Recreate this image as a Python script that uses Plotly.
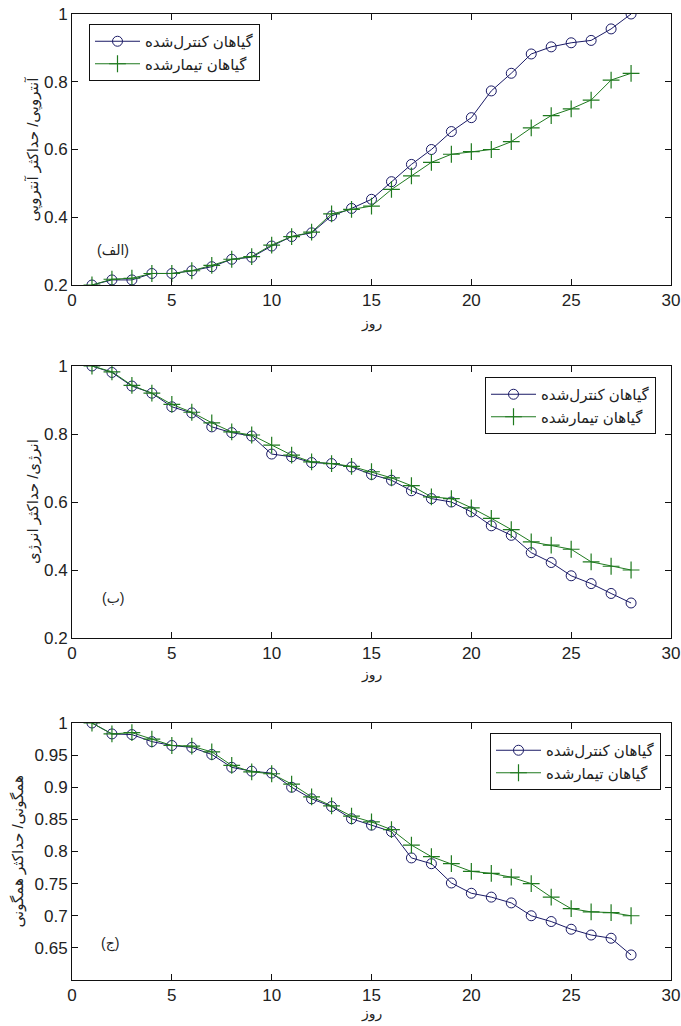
import plotly.graph_objects as go

W, H = 681, 1026
days = list(range(1, 29))

# (الف) entropy / max entropy
entropy_control = [0.200, 0.215, 0.215, 0.234, 0.234, 0.242, 0.254, 0.276, 0.282, 0.315,
                   0.343, 0.354, 0.404, 0.426, 0.453, 0.505, 0.556, 0.600, 0.653, 0.694,
                   0.773, 0.825, 0.882, 0.903, 0.915, 0.922, 0.956, 1.000]
entropy_treated = [0.200, 0.217, 0.220, 0.234, 0.234, 0.242, 0.258, 0.276, 0.284, 0.318,
                   0.343, 0.356, 0.410, 0.423, 0.433, 0.482, 0.522, 0.562, 0.586, 0.594,
                   0.600, 0.623, 0.664, 0.700, 0.720, 0.746, 0.805, 0.825]

# (ب) energy / max energy
energy_control = [1.000, 0.981, 0.941, 0.920, 0.880, 0.862, 0.821, 0.804, 0.794, 0.741,
                  0.733, 0.716, 0.713, 0.703, 0.681, 0.664, 0.633, 0.610, 0.600, 0.571,
                  0.530, 0.502, 0.451, 0.422, 0.383, 0.360, 0.331, 0.303]
energy_treated = [1.000, 0.983, 0.943, 0.920, 0.887, 0.864, 0.833, 0.806, 0.797, 0.767,
                  0.738, 0.718, 0.713, 0.705, 0.689, 0.671, 0.648, 0.615, 0.610, 0.583,
                  0.552, 0.519, 0.483, 0.473, 0.461, 0.424, 0.411, 0.400]

# (ج) homogeneity / max homogeneity
homog_control = [1.000, 0.983, 0.982, 0.971, 0.965, 0.962, 0.951, 0.931, 0.925, 0.922,
                 0.900, 0.882, 0.870, 0.851, 0.841, 0.831, 0.790, 0.781, 0.751, 0.735,
                 0.729, 0.720, 0.700, 0.691, 0.679, 0.670, 0.665, 0.639]
homog_treated = [1.000, 0.983, 0.985, 0.975, 0.965, 0.964, 0.955, 0.934, 0.924, 0.921,
                 0.905, 0.885, 0.871, 0.855, 0.846, 0.834, 0.810, 0.792, 0.781, 0.769,
                 0.766, 0.760, 0.750, 0.729, 0.711, 0.706, 0.705, 0.700]

name_control = "گیاهان کنترل‌شده"
name_treated = "گیاهان تیمارشده"
x_title = "روز"
y_titles = ["آنتروپی/ حداکثر آنتروپی", "انرژی/ حداکثر انرژی", "همگونی/ حداکثر همگونی"]
panel_labels = ["(الف)", "(ب)", "(ج)"]

x_ticks = [0, 5, 10, 15, 20, 25, 30]
y_ticks_a = [0.2, 0.4, 0.6, 0.8, 1.0]
y_ticklabels_a = ["0.2", "0.4", "0.6", "0.8", "1"]
y_ticks_c = [0.65, 0.7, 0.75, 0.8, 0.85, 0.9, 0.95, 1.0]
y_ticklabels_c = ["0.65", "0.7", "0.75", "0.8", "0.85", "0.9", "0.95", "1"]

NAVY = "#1a1a66"
GREEN = "#1f7a1f"
FONT = "Liberation Sans, Arial, DejaVu Sans, sans-serif"
TXT = "#222222"

# page-pixel layout of the three panels (left, right, top, bottom)
panels = [(72, 671, 14, 285), (72, 671, 366, 638), (72, 671, 723, 980)]
legend_pos = [(89, 24), (485, 377), (490, 733)]
label_pos = [(113, 250), (113, 598), (110, 943)]
ytitle_x = [33, 33, 17]
xtitle_gap = [38, 36, 33]


def px(xp):
    return min(max(xp / W, 0), 1)


def py(yp):
    return min(max(1 - yp / H, 0), 1)


fig = go.Figure()
series = [(entropy_control, entropy_treated), (energy_control, energy_treated),
          (homog_control, homog_treated)]

for i, (ctrl, trt) in enumerate(series):
    sfx = "" if i == 0 else str(i + 1)
    lg = "legend" + sfx
    fig.add_trace(go.Scatter(
        x=days, y=ctrl, name=name_control, mode="lines+markers",
        line=dict(color=NAVY, width=1),
        marker=dict(symbol="circle-open", size=10, color=NAVY, line=dict(width=1, color=NAVY)),
        xaxis="x" + sfx, yaxis="y" + sfx, legend=lg))
    fig.add_trace(go.Scatter(
        x=days, y=trt, name=name_treated, mode="lines+markers",
        line=dict(color=GREEN, width=1),
        marker=dict(symbol="cross-thin-open", size=12, color=GREEN, line=dict(width=1.2, color=GREEN)),
        xaxis="x" + sfx, yaxis="y" + sfx, legend=lg))

layout = dict(
    template="none",
    width=W, height=H, margin=dict(l=0, r=0, t=0, b=0, autoexpand=False),
    paper_bgcolor="white", plot_bgcolor="white",
    font=dict(family=FONT, size=17, color=TXT),
    showlegend=True,
)

axis_common = dict(showline=True, linecolor="#111111", linewidth=1, mirror="allticks",
                   ticks="inside", ticklen=6, tickcolor="#111111", showgrid=False,
                   zeroline=False, automargin=False, ticklabeloverflow="allow",
                   tickfont=dict(family=FONT, size=17, color=TXT))

annotations = []
for i, (l, r, t, b) in enumerate(panels):
    sfx = "" if i == 0 else str(i + 1)
    layout["xaxis" + sfx] = dict(axis_common, domain=[px(l), px(r)], range=[0, 30],
                                 tickvals=x_ticks, anchor="y" + sfx)
    if i < 2:
        yr, tv, tt = [0.2, 1.0], y_ticks_a, y_ticklabels_a
    else:
        yr, tv, tt = [0.6, 1.0], y_ticks_c, y_ticklabels_c
    layout["yaxis" + sfx] = dict(axis_common, domain=[py(b), py(t)], range=yr,
                                 tickvals=tv, ticktext=tt, anchor="x" + sfx)
    lx, ly = legend_pos[i]
    layout["legend" + sfx] = dict(
        x=px(lx), y=py(ly), xanchor="left", yanchor="top", xref="paper", yref="paper",
        bgcolor="white", bordercolor="#111111", borderwidth=1,
        font=dict(family=FONT, size=15, color=TXT), itemwidth=45, tracegroupgap=0,
        traceorder="normal")
    annotations.append(dict(text=y_titles[i], textangle=-90, xref="paper", yref="paper",
                            x=px(ytitle_x[i]), y=py((t + b) / 2), showarrow=False,
                            xanchor="center", yanchor="middle",
                            font=dict(family=FONT, size=15, color=TXT)))
    annotations.append(dict(text=x_title, xref="paper", yref="paper",
                            x=px((l + r) / 2), y=py(b + xtitle_gap[i]), showarrow=False,
                            xanchor="center", yanchor="middle",
                            font=dict(family=FONT, size=14, color=TXT)))
    lpx, lpy = label_pos[i]
    annotations.append(dict(text=panel_labels[i], xref="paper", yref="paper",
                            x=px(lpx), y=py(lpy), showarrow=False,
                            xanchor="center", yanchor="middle",
                            font=dict(family=FONT, size=14, color=TXT)))

layout["annotations"] = annotations
fig.update_layout(**layout)
fig.write_html("out.html", config={"displayModeBar": False},
               post_script="document.body.style.margin='0';")
